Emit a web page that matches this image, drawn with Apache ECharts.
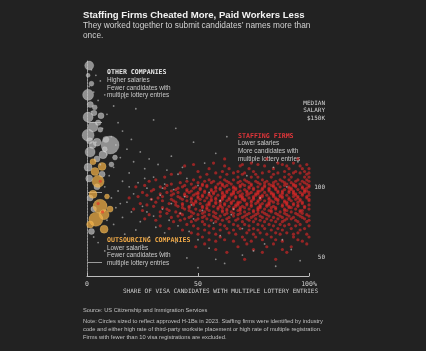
<!DOCTYPE html>
<html>
<head>
<meta charset="utf-8">
<script src="https://cdn.jsdelivr.net/npm/echarts@6/dist/echarts.min.js"></script>
<style>
  html, body { margin: 0; padding: 0; background: #222222; }
  #chart { width: 426px; height: 351px; }
</style>
</head>
<body>
<div id="chart"></div>
<script>
// [share of candidates with multiple entries %, median salary $K, approved H-1Bs]
const otherBubbles = [
  [1, 191, 660], [0.5, 184, 130], [2, 178, 200], [0.5, 170, 990], [1.5, 163, 300],
  [3.5, 161, 200], [0.5, 154, 820], [6.3, 155, 300], [5, 150, 250], [2.7, 147, 820],
  [6, 145, 200], [0.5, 141, 1180], [8.5, 138, 300], [4.5, 136, 520], [2.5, 134, 400],
  [10.4, 134, 2650], [1.4, 129, 820], [7.2, 127, 520], [12.6, 125, 200], [4.5, 124, 300],
  [11, 120, 200], [0.5, 118, 520], [6.8, 113, 300], [1, 110, 400], [4.5, 104, 300],
  [1.4, 96, 300], [3, 88, 250], [2, 72, 300], [3.2, 157, 250], [1.2, 137, 300], [8, 131, 200]
];
const outsourcingBubbles = [
  [2.7, 122, 300], [6.8, 118.6, 520], [3.6, 115, 520], [5, 107.9, 1180], [2.7, 98.6, 520],
  [9, 97, 200], [5.9, 90, 1600], [10.4, 88, 300], [7.7, 84, 820], [4, 80.7, 1600],
  [1.4, 77, 400], [7.7, 73.6, 520]
];
// staffing firms: [median salary $K, [share %, ...]]
const staffingRows = [
  [124, [62, 81, 95]],
  [121, [57, 74, 86, 93]],
  [120, [48, 70, 77, 88, 99]],
  [119, [44, 62, 69, 80, 90, 96]],
  [117, [55, 64, 73, 84, 91, 97, 100]],
  [115, [50, 61, 68, 75, 82, 89, 94, 98]],
  [114, [42, 58, 66, 71, 79, 86, 93, 96, 100]],
  [113, [38, 54, 63, 70, 76, 84, 91, 99]],
  [111, [35, 51, 60, 68, 74, 77, 83, 89, 92, 98, 100]],
  [109, [31, 48, 55, 62, 66, 71, 79, 87, 91, 95, 99]],
  [108, [6, 28, 45, 53, 57, 63, 69, 72, 76, 81, 85, 88, 94, 97, 100]],
  [107, [42, 50, 56, 60, 64, 68, 73, 77, 80, 84, 89, 92, 98]],
  [106, [38, 47, 52, 59, 61, 65, 70, 74, 78, 82, 86, 90, 93, 96, 99]],
  [105, [26, 36, 44, 52, 54, 61, 63, 69, 71, 74, 80, 83, 84, 89, 93, 94, 100]],
  [104, [22, 33, 43, 49, 54, 58, 62, 66, 69, 73, 77, 80, 84, 87, 91, 94, 97, 100]],
  [103, [35, 41, 48, 51, 58, 60, 66, 67, 73, 75, 79, 82, 85, 91, 92, 97, 99]],
  [102, [30, 40, 45, 51, 56, 60, 64, 67, 71, 75, 79, 82, 85, 89, 92, 95, 98]],
  [101, [29, 38, 45, 47, 53, 56, 58, 63, 66, 69, 72, 77, 78, 82, 86, 88, 91, 93, 98, 99]],
  [100, [25, 36, 41, 46, 50, 53, 57, 61, 63, 66, 68, 72, 74, 77, 80, 83, 86, 88, 91, 93, 96, 98, 100]],
  [99, [33, 39, 44, 49, 50, 55, 57, 61, 65, 66, 70, 73, 76, 77, 83, 84, 88, 93, 94, 97]],
  [98, [27, 38, 44, 48, 52, 55, 59, 62, 65, 69, 72, 76, 79, 81, 84, 87, 90, 94, 97, 100]],
  [97, [23, 34, 41, 45, 50, 52, 56, 61, 62, 67, 69, 70, 75, 78, 79, 84, 87, 88, 93, 95, 99]],
  [96, [19, 32, 42, 47, 50, 54, 58, 61, 64, 67, 70, 73, 75, 78, 82, 85, 88, 91, 95, 99]],
  [95, [29, 38, 43, 47, 51, 56, 58, 61, 64, 70, 71, 75, 78, 82, 85, 86, 91, 94, 96, 100]],
  [94, [34, 39, 45, 49, 53, 56, 60, 63, 66, 71, 74, 77, 80, 83, 86, 89, 92, 96, 100]],
  [93, [31, 40, 47, 49, 55, 58, 60, 65, 68, 69, 74, 77, 82, 84, 89, 90, 95, 97]],
  [92, [5, 24, 37, 43, 48, 51, 55, 58, 62, 65, 68, 72, 76, 79, 82, 86, 90, 93, 97]],
  [91, [27, 40, 43, 48, 54, 55, 60, 62, 67, 68, 72, 74, 78, 81, 82, 88, 90, 93, 95, 100]],
  [90, [30, 41, 46, 52, 57, 60, 64, 67, 70, 74, 78, 81, 84, 88, 91, 95, 98]],
  [89, [34, 43, 46, 52, 54, 59, 61, 66, 69, 71, 77, 78, 83, 85, 91, 92, 98]],
  [88, [21, 36, 44, 49, 54, 59, 63, 66, 69, 73, 77, 80, 85, 89, 94, 100]],
  [87, [25, 37, 46, 51, 55, 61, 63, 68, 69, 75, 77, 82, 83, 89, 90, 96, 97]],
  [86, [7, 33, 40, 47, 53, 57, 61, 65, 71, 75, 79, 83, 87, 92, 96]],
  [85, [36, 42, 48, 52, 58, 63, 66, 69, 73, 77, 80, 85, 89, 94, 97]],
  [84, [28, 43, 50, 55, 62, 68, 72, 76, 81, 86, 90, 95, 99]],
  [83, [33, 41, 47, 53, 57, 60, 66, 71, 75, 78, 82, 87, 91, 96, 100]],
  [82, [38, 46, 52, 58, 64, 70, 74, 79, 84, 88, 93, 97]],
  [81, [26, 44, 50, 54, 59, 63, 68, 72, 76, 81, 86, 90, 92, 98]],
  [80, [31, 42, 49, 56, 61, 67, 73, 78, 83, 89, 94, 100]],
  [79, [39, 47, 52, 58, 64, 70, 75, 80, 85, 88, 95, 99]],
  [77, [45, 53, 60, 66, 71, 77, 82, 87, 91, 96]],
  [76, [33, 48, 55, 62, 68, 73, 79, 84, 89, 94, 100]],
  [74, [37, 50, 57, 63, 69, 75, 80, 86, 92, 98]],
  [73, [43, 53, 60, 66, 73, 77, 83, 88, 96]],
  [71, [47, 55, 64, 72, 78, 85, 90, 95]],
  [70, [50, 58, 67, 75, 81, 87, 93, 99]],
  [68, [52, 60, 70, 76, 83, 93, 100]],
  [66, [55, 62, 71, 79, 85, 95]],
  [65, [58, 66, 74, 88, 97]],
  [63, [53, 72, 84, 99]],
  [61, [49, 68, 81, 92]],
  [59, [58, 75, 88]],
  [57, [63, 79, 90]],
  [52, [71, 85]]
];
const otherDots = [
  [2, 188], [4, 184], [6, 180], [1, 176], [3, 172], [8, 170], [5, 166], [12, 162], [2, 158],
  [9, 156], [14, 150], [7, 146], [16, 144], [11, 140], [20, 138], [4, 136], [13, 134], [18, 131],
  [24, 129], [9, 127], [15, 125], [28, 124], [21, 122], [32, 120], [6, 120], [12, 118], [26, 117],
  [36, 116], [19, 114], [41, 113], [10, 112], [30, 111], [45, 110], [16, 108], [23, 107], [35, 106],
  [50, 105], [8, 104], [27, 103], [39, 102], [14, 101], [55, 100], [21, 99], [33, 98], [44, 97],
  [11, 96], [29, 95], [60, 94], [18, 93], [38, 92], [47, 91], [25, 90], [13, 89], [34, 88],
  [52, 87], [20, 86], [42, 85], [65, 84], [30, 83], [16, 82], [48, 81], [37, 80], [24, 79],
  [57, 78], [12, 77], [41, 76], [31, 75], [70, 74], [22, 73], [46, 72], [35, 71], [17, 70],
  [60, 69], [28, 68], [50, 66], [40, 64], [80, 63], [25, 62], [55, 60], [92, 59], [33, 57],
  [70, 55], [45, 53], [96, 51], [62, 49], [85, 47], [50, 46], [58, 52], [75, 58], [88, 66],
  [66, 88], [78, 96], [90, 104], [72, 112], [84, 118], [95, 122], [58, 128], [48, 136], [63, 140],
  [40, 146], [30, 152], [22, 160], [17, 168], [10, 186], [5, 64], [8, 58], [3, 68],
  [26, 110], [34, 103], [19, 104], [43, 118], [38, 126], [53, 121], [15, 92], [27, 86], [9, 80]
];
const yTicks = [50, 100, 150];

const staffingDots = [];
staffingRows.forEach(function (row) {
  row[1].forEach(function (x) { staffingDots.push([x, row[0]]); });
});

const MONO = '"DejaVu Sans Mono", monospace';
const SANS = '"Liberation Sans", Arial, sans-serif';

function txt(x, y, text, font, fill, align) {
  return {
    type: 'text', x: x, y: y, silent: true,
    style: { text: text, font: font, fill: fill, align: align || 'left', verticalAlign: 'middle' }
  };
}

const notes = [
  txt(83, 15, 'Staffing Firms Cheated More, Paid Workers Less', 'bold 9.6px ' + SANS, '#f2f2f2'),
  txt(83, 26, 'They worked together to submit candidates\u2019 names more than', '8.3px ' + SANS, '#d0d0d0'),
  txt(83, 36, 'once.', '8.3px ' + SANS, '#d0d0d0'),

  txt(107, 72, 'OTHER COMPANIES', 'bold 6.6px ' + MONO, '#e6e6e6'),
  txt(107, 80, 'Higher salaries', '6.4px ' + SANS, '#c8c8c8'),
  txt(107, 88, 'Fewer candidates with', '6.4px ' + SANS, '#c8c8c8'),
  txt(107, 95, 'multiple lottery entries', '6.4px ' + SANS, '#c8c8c8'),

  txt(238, 136, 'STAFFING FIRMS', 'bold 6.6px ' + MONO, '#e0353a'),
  txt(238, 143, 'Lower salaries', '6.4px ' + SANS, '#c8c8c8'),
  txt(238, 151, 'More candidates with', '6.4px ' + SANS, '#c8c8c8'),
  txt(238, 159, 'multiple lottery entries', '6.4px ' + SANS, '#c8c8c8'),

  txt(107, 240, 'OUTSOURCING COMPANIES', 'bold 6.6px ' + MONO, '#f0aa48'),
  txt(107, 248, 'Lower salaries', '6.4px ' + SANS, '#c8c8c8'),
  txt(107, 255, 'Fewer candidates with', '6.4px ' + SANS, '#c8c8c8'),
  txt(107, 263, 'multiple lottery entries', '6.4px ' + SANS, '#c8c8c8'),

  txt(318, 291, 'SHARE OF VISA CANDIDATES WITH MULTIPLE LOTTERY ENTRIES', '6px ' + MONO, '#d0d0d0', 'right'),

  txt(83, 310, 'Source: US Citizenship and Immigration Services', '5.7px ' + SANS, '#c0c0c0'),
  txt(83, 321, 'Note: Circles sized to reflect approved H-1Bs in 2023. Staffing firms were identified by industry', '5.75px ' + SANS, '#c0c0c0'),
  txt(83, 329, 'code and either high rate of third-party worksite placement or high rate of multiple registration.', '5.75px ' + SANS, '#c0c0c0'),
  txt(83, 337, 'Firms with fewer than 10 visa registrations are excluded.', '5.75px ' + SANS, '#c0c0c0')
];

const chart = echarts.init(document.getElementById('chart'));
chart.setOption({
  backgroundColor: '#222222',
  animation: false,
  grid: { left: 87, right: 117, top: 60, bottom: 75 },
  graphic: notes,
  xAxis: {
    type: 'value', min: 0, max: 100, interval: 50,
    splitLine: { show: false },
    axisLine: { lineStyle: { color: '#bdbdbd', width: 1 } },
    axisTick: { show: true, inside: true, length: 3, lineStyle: { color: '#bdbdbd' } },
    axisLabel: {
      color: '#d0d0d0', fontFamily: MONO, fontSize: 6.5, margin: 5,
      formatter: function (v) { return v === 100 ? '100%' : String(v); }
    }
  },
  yAxis: [
    {
      type: 'value', min: 40, max: 195, position: 'right',
      splitLine: { show: false },
      axisLine: { show: true, lineStyle: { color: '#8a8a8a', type: [1, 2] } },
      axisTick: { show: true, customValues: yTicks, length: 15, lineStyle: { color: '#9a9a9a' } },
      axisLabel: {
        customValues: yTicks, color: '#d8d8d8', fontFamily: MONO, fontSize: 6,
        lineHeight: 7.4, align: 'right', verticalAlign: 'bottom', margin: 16,
        padding: [0, 0, 1, 0],
        formatter: function (v) { return v === 150 ? 'MEDIAN\nSALARY\n$150K' : String(v); }
      }
    },
    {
      type: 'value', min: 40, max: 195, position: 'left',
      splitLine: { show: false },
      axisLine: { show: true, lineStyle: { color: '#9a9a9a', type: [2, 1] } },
      axisTick: { show: false },
      axisLabel: { show: false }
    }
  ],
  series: [
    {
      name: 'Other companies', type: 'scatter', data: otherBubbles,
      symbolSize: function (d) { return Math.sqrt(d[2]) * 0.35; },
      itemStyle: { color: 'rgba(196,196,196,0.85)', borderColor: 'rgba(235,235,235,0.6)', borderWidth: 0.5 },
      z: 2
    },
    {
      name: 'Outsourcing companies', type: 'scatter', data: outsourcingBubbles,
      symbolSize: function (d) { return Math.sqrt(d[2]) * 0.35; },
      itemStyle: { color: 'rgba(242,176,70,0.9)', borderColor: 'rgba(250,210,120,0.7)', borderWidth: 0.5 },
      z: 3
    },
    {
      name: 'Staffing firms', type: 'scatter', data: staffingDots, symbolSize: 3.2,
      itemStyle: { color: 'rgba(228,40,40,0.75)' }, z: 4
    },
    {
      name: 'Other small', type: 'scatter', data: otherDots, symbolSize: 1.8,
      itemStyle: { color: 'rgba(205,205,205,0.75)' }, z: 5
    }
  ]
});
</script>
</body>
</html>
